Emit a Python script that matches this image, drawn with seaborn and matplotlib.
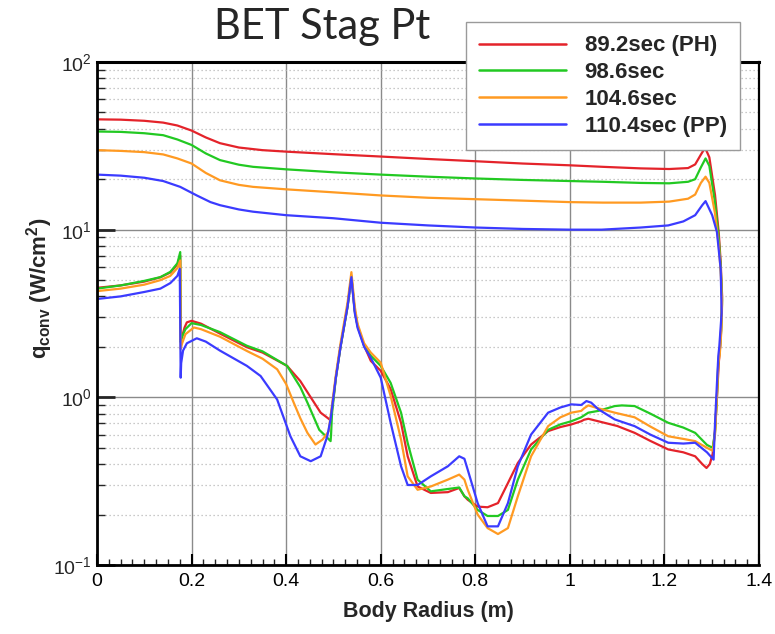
import numpy as np
import pandas as pd
import matplotlib
matplotlib.use("Agg")
import matplotlib.pyplot as plt
import seaborn as sns
from matplotlib.ticker import FixedLocator, LogLocator, NullFormatter, MultipleLocator

# ---------------- data (path order: forebody 0 -> shoulder, then backshell shoulder -> 0) -------------
series_names = ["89.2sec (PH)", "98.6sec", "104.6sec", "110.4sec (PP)"]
series_colors = ["#e4232a", "#22c922", "#ff9a22", "#3b3bff"]

red_x = [0.0, 0.05, 0.10, 0.14, 0.17, 0.20, 0.23, 0.26, 0.30, 0.35, 0.40, 0.50, 0.60, 0.70, 0.80, 0.90,
         1.00, 1.07, 1.15, 1.21, 1.25, 1.265, 1.277, 1.286, 1.295, 1.307, 1.315, 1.319, 1.322, 1.320,
         1.318, 1.315,
         1.311, 1.307, 1.302, 1.296, 1.289, 1.28, 1.265, 1.24, 1.208, 1.17, 1.137, 1.10, 1.06, 1.039,
         1.03, 1.024, 1.003, 0.98, 0.954, 0.918, 0.89, 0.869, 0.848, 0.826, 0.805, 0.784, 0.777, 0.766,
         0.742, 0.706, 0.678, 0.657, 0.643, 0.621, 0.60, 0.579, 0.565, 0.551, 0.545, 0.538, 0.53, 0.515,
         0.505, 0.502, 0.497, 0.494, 0.487, 0.473, 0.452, 0.43, 0.402, 0.35, 0.317, 0.26, 0.22, 0.20,
         0.19, 0.185, 0.18, 0.177, 0.176, 0.17, 0.155, 0.134, 0.10, 0.05, 0.0]
red_y = [45.5, 45.3, 44.6, 43.5, 41.8, 39.0, 35.5, 32.8, 30.9, 29.8, 29.2, 28.2, 27.3, 26.4, 25.6, 24.8,
         24.2, 23.7, 23.2, 23.0, 23.3, 24.5, 28.0, 30.8, 27.0, 16.1, 9.5, 6.4, 4.0, 2.6,
         2.03, 1.61,
         1.0, 0.64, 0.46, 0.40, 0.379, 0.40, 0.445, 0.47, 0.489, 0.55, 0.614, 0.675, 0.72, 0.745,
         0.735, 0.72, 0.689, 0.665, 0.629, 0.523, 0.406, 0.308, 0.234, 0.221, 0.223, 0.245, 0.257, 0.288,
         0.272, 0.269, 0.294, 0.445, 0.705, 1.12, 1.44, 1.65, 2.03, 2.67, 3.3, 5.2, 3.5, 2.0,
         1.3, 1.1, 0.85, 0.73, 0.756, 0.81, 1.0, 1.25, 1.54, 1.85, 1.99, 2.4, 2.75, 2.86,
         2.8, 2.6, 2.3, 2.2, 7.0, 6.2, 5.55, 5.2, 4.9, 4.65, 4.5]

green_x = [0.0, 0.05, 0.10, 0.14, 0.17, 0.20, 0.23, 0.26, 0.30, 0.33, 0.40, 0.50, 0.60, 0.70, 0.80, 0.90,
           1.00, 1.07, 1.15, 1.21, 1.25, 1.265, 1.277, 1.287, 1.295, 1.307, 1.315, 1.319, 1.322, 1.320,
           1.317, 1.314,
           1.311, 1.307, 1.302, 1.29, 1.265, 1.24, 1.208, 1.17, 1.137, 1.11, 1.095, 1.06, 1.039, 1.03,
           1.024, 1.003, 0.98, 0.954, 0.918, 0.89, 0.869, 0.848, 0.826, 0.805, 0.784, 0.777, 0.766, 0.742,
           0.706, 0.678, 0.657, 0.643, 0.621, 0.60, 0.579, 0.565, 0.551, 0.545, 0.538, 0.53, 0.515, 0.505,
           0.497, 0.495, 0.494, 0.484, 0.47, 0.445, 0.43, 0.402, 0.35, 0.317, 0.26, 0.22, 0.20, 0.187,
           0.18, 0.177, 0.176, 0.17, 0.155, 0.134, 0.10, 0.05, 0.0]
green_y = [38.5, 38.3, 37.6, 36.6, 34.5, 32.0, 28.5, 26.0, 24.4, 23.7, 22.9, 22.0, 21.3, 20.7, 20.2, 19.8,
           19.5, 19.3, 19.0, 18.9, 19.3, 20.0, 23.5, 26.6, 24.0, 14.5, 8.8, 6.0, 3.8, 2.5,
           1.9, 1.65,
           1.0, 0.62, 0.50, 0.52, 0.614, 0.66, 0.705, 0.80, 0.887, 0.895, 0.887, 0.83, 0.81, 0.78,
           0.76, 0.72, 0.69, 0.64, 0.489, 0.323, 0.213, 0.196, 0.196, 0.213, 0.25, 0.257, 0.29, 0.284,
           0.275, 0.323, 0.535, 0.81, 1.22, 1.54, 1.77, 2.03, 2.67, 3.3, 5.3, 3.5, 2.0, 1.3,
           0.8, 0.6, 0.548, 0.586, 0.64, 0.93, 1.15, 1.54, 1.88, 2.03, 2.45, 2.7, 2.77, 2.55,
           2.3, 2.13, 7.35, 6.3, 5.6, 5.21, 4.95, 4.65, 4.45]

orange_x = [0.0, 0.05, 0.10, 0.14, 0.17, 0.20, 0.23, 0.26, 0.30, 0.33, 0.40, 0.50, 0.60, 0.70, 0.80, 0.90,
            1.00, 1.07, 1.15, 1.21, 1.25, 1.265, 1.277, 1.287, 1.295, 1.307, 1.315, 1.319, 1.322, 1.320,
            1.317, 1.314,
            1.311, 1.307, 1.302, 1.29, 1.265, 1.24, 1.208, 1.17, 1.137, 1.095, 1.06, 1.039, 1.03, 1.024,
            1.003, 0.98, 0.954, 0.918, 0.89, 0.869, 0.848, 0.826, 0.805, 0.784, 0.777, 0.766, 0.742, 0.706,
            0.678, 0.657, 0.643, 0.621, 0.60, 0.579, 0.565, 0.551, 0.545, 0.538, 0.53, 0.515, 0.505, 0.497,
            0.49, 0.477, 0.462, 0.445, 0.43, 0.416, 0.40, 0.381, 0.35, 0.317, 0.26, 0.22, 0.205, 0.187,
            0.18, 0.177, 0.176, 0.17, 0.155, 0.134, 0.10, 0.05, 0.0]
orange_y = [29.8, 29.5, 29.0, 28.1, 26.6, 24.8, 21.8, 19.7, 18.5, 18.0, 17.4, 16.7, 16.0, 15.5, 15.2, 14.9,
            14.6, 14.5, 14.5, 14.7, 15.3, 16.2, 19.0, 20.7, 19.0, 12.5, 8.0, 5.6, 3.6, 2.4,
            1.8, 1.6,
            1.0, 0.6, 0.48, 0.5, 0.548, 0.565, 0.586, 0.67, 0.76, 0.81, 0.86, 0.895, 0.86, 0.83,
            0.81, 0.76, 0.673, 0.445, 0.257, 0.166, 0.153, 0.166, 0.2, 0.281, 0.323, 0.346, 0.323, 0.294,
            0.281, 0.338, 0.56, 1.02, 1.61, 1.85, 2.1, 2.75, 3.5, 5.58, 3.7, 2.1, 1.35, 0.9,
            0.628, 0.56, 0.523, 0.614, 0.75, 0.93, 1.2, 1.47, 1.7, 1.89, 2.3, 2.55, 2.61, 2.38,
            2.1, 1.94, 6.55, 5.9, 5.3, 5.0, 4.7, 4.45, 4.3]

blue_x = [0.0, 0.05, 0.10, 0.14, 0.176, 0.211, 0.24, 0.26, 0.30, 0.33, 0.40, 0.50, 0.60, 0.70, 0.80, 0.90,
          1.00, 1.067, 1.15, 1.208, 1.24, 1.265, 1.28, 1.287, 1.301, 1.311, 1.319, 1.321, 1.316, 1.314,
          1.311, 1.307, 1.304, 1.29, 1.265, 1.24, 1.208, 1.17, 1.137, 1.095, 1.06, 1.045, 1.035, 1.024,
          1.003, 0.98, 0.954, 0.918, 0.89, 0.869, 0.848, 0.826, 0.805, 0.784, 0.777, 0.766, 0.742, 0.706,
          0.678, 0.657, 0.643, 0.621, 0.60, 0.579, 0.565, 0.551, 0.545, 0.538, 0.53, 0.515, 0.505, 0.494,
          0.487, 0.473, 0.452, 0.43, 0.409, 0.381, 0.346, 0.317, 0.26, 0.23, 0.211, 0.19, 0.182, 0.178,
          0.177, 0.175, 0.17, 0.155, 0.134, 0.10, 0.05, 0.0]
blue_y = [21.3, 21.0, 20.4, 19.5, 18.0, 16.0, 14.6, 14.0, 13.2, 12.8, 12.2, 11.7, 11.0, 10.6, 10.3, 10.1,
          10.0, 10.0, 10.3, 10.6, 11.2, 12.2, 14.0, 14.8, 12.2, 9.7, 5.8, 3.2, 2.0, 1.77,
          1.2, 0.7, 0.425, 0.47, 0.536, 0.53, 0.536, 0.6, 0.673, 0.738, 0.85, 0.93, 0.95, 0.9,
          0.908, 0.87, 0.81, 0.6, 0.388, 0.234, 0.17, 0.17, 0.234, 0.37, 0.43, 0.445, 0.388, 0.338,
          0.30, 0.30, 0.388, 0.705, 1.31, 1.72, 2.0, 2.6, 3.2, 5.21, 3.5, 2.0, 1.3, 0.74,
          0.586, 0.445, 0.416, 0.445, 0.586, 0.97, 1.34, 1.54, 1.9, 2.15, 2.25, 2.1, 1.9, 1.6,
          1.31, 5.84, 5.3, 4.8, 4.45, 4.25, 4.0, 3.86]

x_ticks = [0, 0.2, 0.4, 0.6, 0.8, 1.0, 1.2, 1.4]
x_tick_labels = ["0", "0.2", "0.4", "0.6", "0.8", "1", "1.2", "1.4"]
y_ticks = [0.1, 1, 10, 100]
y_tick_labels = ["$10^{-1}$", "$10^{0}$", "$10^{1}$", "$10^{2}$"]

frames = []
for name, xs, ys in zip(series_names, [red_x, green_x, orange_x, blue_x], [red_y, green_y, orange_y, blue_y]):
    frames.append(pd.DataFrame({"x": xs, "q": ys, "series": name}))
df = pd.concat(frames, ignore_index=True)

# ---------------- style ----------------
sns.set_style("white")
plt.rcParams["font.family"] = ["Liberation Sans", "DejaVu Sans"]
plt.rcParams["mathtext.fontset"] = "custom"
plt.rcParams["mathtext.rm"] = "Liberation Sans"
plt.rcParams["mathtext.bf"] = "Liberation Sans:bold"
plt.rcParams["mathtext.it"] = "Liberation Sans:italic"

fig = plt.figure(figsize=(7.75, 6.34), dpi=100)
ax = fig.add_axes([97 / 775, 1 - 565 / 634, (759 - 97) / 775, (565 - 62) / 634])

sns.lineplot(data=df, x="x", y="q", hue="series", hue_order=series_names,
             palette=dict(zip(series_names, series_colors)), sort=False, estimator=None,
             linewidth=1.6, ax=ax)

ax.set_yscale("log")
ax.set_xlim(0, 1.4)
ax.set_ylim(0.1, 100)

ax.xaxis.set_major_locator(FixedLocator(x_ticks))
ax.set_xticklabels(x_tick_labels)
ax.xaxis.set_minor_locator(MultipleLocator(0.025))
ax.yaxis.set_major_locator(FixedLocator(y_ticks))
ax.set_yticklabels(y_tick_labels)
ax.yaxis.set_minor_locator(LogLocator(base=10, subs=np.arange(2, 10)))
ax.yaxis.set_minor_formatter(NullFormatter())

ax.grid(True, which="major", color="#8a8a8a", linewidth=1.0, linestyle="-")
ax.grid(True, which="minor", axis="y", color="#b8b8b8", linewidth=0.9, linestyle=(0, (1, 2.2)))
ax.set_axisbelow(True)

ax.tick_params(axis="x", which="major", direction="in", length=8, width=1.5, labelsize=14, pad=6,
               colors="black", bottom=True)
ax.tick_params(axis="x", which="minor", direction="in", length=4, width=1.0, bottom=True)
ax.tick_params(axis="y", which="major", direction="in", length=13, width=2.0, labelsize=14, pad=4,
               left=True)
ax.tick_params(axis="y", which="minor", direction="in", length=6, width=1.0, left=True)

for side, lw in [("left", 2.0), ("bottom", 2.0), ("top", 2.2), ("right", 1.6)]:
    ax.spines[side].set_visible(True)
    ax.spines[side].set_color("black")
    ax.spines[side].set_linewidth(lw)

ax.set_xlabel("Body Radius (m)", fontsize=15.5, fontweight="bold", labelpad=8)
ax.set_ylabel(r"$\mathbf{q}_{\mathbf{conv}}$ (W/cm$^{\mathbf{2}}$)", fontsize=16, fontweight="bold")
ax.yaxis.set_label_coords(-0.064, 0.55)

handles, labels = ax.get_legend_handles_labels()
leg = ax.legend(handles, labels, loc="upper right", bbox_to_anchor=(740 / 775, 1 - 22 / 634),
                bbox_transform=fig.transFigure, borderaxespad=0, frameon=True, fancybox=False,
                framealpha=1, edgecolor="#9a9a9a", handlelength=3.9, handletextpad=0.85,
                borderpad=0.6, labelspacing=0.26, prop={"weight": "bold", "size": 16})
leg.get_frame().set_linewidth(1.0)
for line in leg.get_lines():
    line.set_linewidth(1.8)

fig.text(322 / 775, 1 - 27 / 634, "BET Stag Pt", fontsize=30, family=["Lato", "DejaVu Sans"],
         ha="center", va="center")

fig.savefig("out.png", dpi=100)
